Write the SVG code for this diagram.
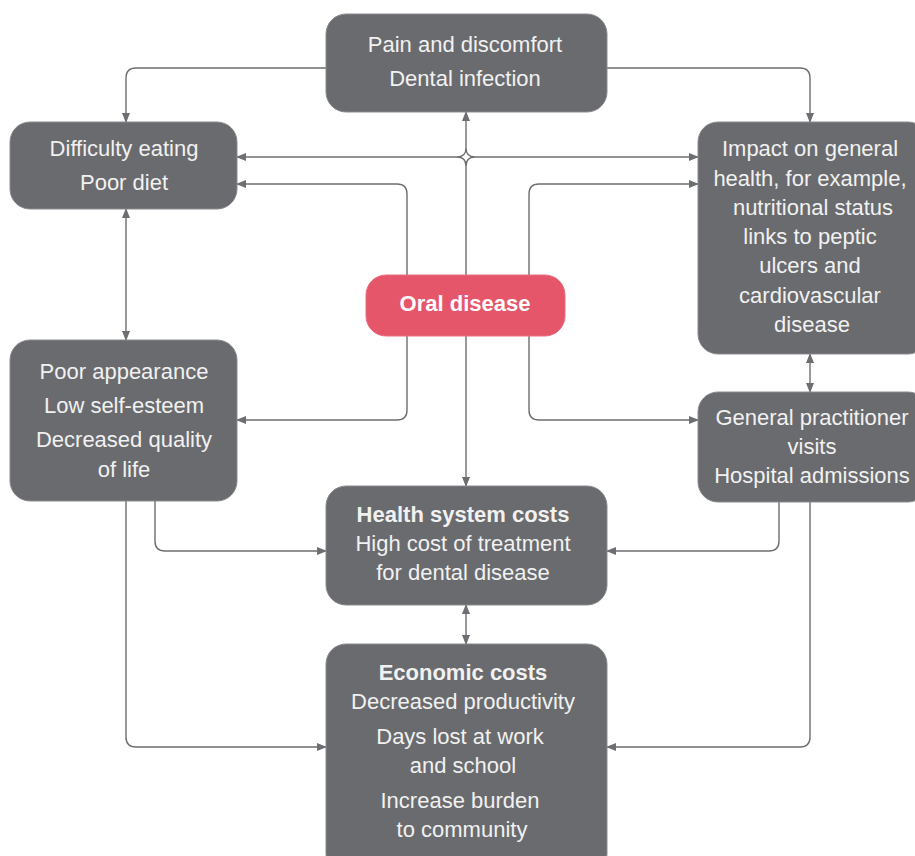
<svg xmlns="http://www.w3.org/2000/svg" width="915" height="856" viewBox="0 0 915 856">
<style>
.box{fill:#6a6b6e;stroke:#8a8b8e;stroke-width:1}
.red{fill:#e5566a;stroke:#e86f80;stroke-width:1}
.t{font-family:"Liberation Sans",Arial,sans-serif;font-size:22px;fill:#f1f1f1;text-anchor:middle}
.b{font-weight:bold}
.c{fill:none;stroke:#6d6e71;stroke-width:1.4}
</style>
<defs>
<marker id="ah" markerUnits="userSpaceOnUse" markerWidth="10" markerHeight="8" refX="9" refY="4" orient="auto-start-reverse">
<path d="M0,0 L10,4 L0,8 Z" fill="#6d6e71"/>
</marker>
</defs>
<g id="connectors">
<path class="c" d="M326,68 H136 Q126,68 126,78 V122" marker-end="url(#ah)"/>
<path class="c" d="M607,68 H800 Q810,68 810,78 V122" marker-end="url(#ah)"/>
<path class="c" d="M466,148 V112" marker-end="url(#ah)"/>
<path class="c" d="M466,166 V486" marker-end="url(#ah)"/>
<path class="c" d="M457,157 H237" marker-end="url(#ah)"/>
<path class="c" d="M475,157 H698" marker-end="url(#ah)"/>
<path class="c" d="M457,157 Q466,157 466,148 M475,157 Q466,157 466,148 M457,157 Q466,157 466,166 M475,157 Q466,157 466,166"/>
<path class="c" d="M407,275 V194 Q407,184 397,184 H237" marker-end="url(#ah)"/>
<path class="c" d="M407,336 V410 Q407,420 397,420 H237" marker-end="url(#ah)"/>
<path class="c" d="M529,275 V194 Q529,184 539,184 H698" marker-end="url(#ah)"/>
<path class="c" d="M529,336 V410 Q529,420 539,420 H698" marker-end="url(#ah)"/>
<path class="c" d="M126,209 V340" marker-start="url(#ah)" marker-end="url(#ah)"/>
<path class="c" d="M810,354 V392" marker-start="url(#ah)" marker-end="url(#ah)"/>
<path class="c" d="M466,605 V644" marker-start="url(#ah)" marker-end="url(#ah)"/>
<path class="c" d="M155,501 V541 Q155,551 165,551 H326" marker-end="url(#ah)"/>
<path class="c" d="M126,501 V737 Q126,747 136,747 H326" marker-end="url(#ah)"/>
<path class="c" d="M779,502 V541 Q779,551 769,551 H607" marker-end="url(#ah)"/>
<path class="c" d="M810,502 V737 Q810,747 800,747 H607" marker-end="url(#ah)"/>
</g>
<g id="pain">
<rect class="box" x="326" y="14" width="281" height="98" rx="20"/>
<text class="t" x="465" y="52">Pain and discomfort</text>
<text class="t" x="465" y="86">Dental infection</text>
</g>
<g id="eating">
<rect class="box" x="10" y="122" width="227" height="87" rx="20"/>
<text class="t" x="124" y="156">Difficulty eating</text>
<text class="t" x="124" y="190">Poor diet</text>
</g>
<g id="impact">
<rect class="box" x="698" y="122" width="230" height="232" rx="20"/>
<text class="t" x="810" y="156">Impact on general</text>
<text class="t" x="810" y="186">health, for example,</text>
<text class="t" x="813" y="215">nutritional status</text>
<text class="t" x="810" y="244">links to peptic</text>
<text class="t" x="810" y="273">ulcers and</text>
<text class="t" x="810" y="303">cardiovascular</text>
<text class="t" x="812" y="332">disease</text>
</g>
<g id="oral">
<rect class="red" x="366" y="275" width="199" height="61" rx="20"/>
<text class="t b" x="465" y="311" style="fill:#ffffff">Oral disease</text>
</g>
<g id="appearance">
<rect class="box" x="10" y="340" width="227" height="161" rx="20"/>
<text class="t" x="124" y="379">Poor appearance</text>
<text class="t" x="124" y="413">Low self-esteem</text>
<text class="t" x="124" y="447">Decreased quality</text>
<text class="t" x="124" y="477">of life</text>
</g>
<g id="gp">
<rect class="box" x="698" y="392" width="230" height="110" rx="20"/>
<text class="t" x="812" y="425">General practitioner</text>
<text class="t" x="812" y="454">visits</text>
<text class="t" x="812" y="483">Hospital admissions</text>
</g>
<g id="health">
<rect class="box" x="326" y="486" width="281" height="119" rx="20"/>
<text class="t b" x="463" y="522">Health system costs</text>
<text class="t" x="463" y="551">High cost of treatment</text>
<text class="t" x="463" y="580">for dental disease</text>
</g>
<g id="economic">
<rect class="box" x="326" y="644" width="281" height="230" rx="20"/>
<text class="t b" x="463" y="680">Economic costs</text>
<text class="t" x="463" y="709">Decreased productivity</text>
<text class="t" x="460" y="744">Days lost at work</text>
<text class="t" x="463" y="773">and school</text>
<text class="t" x="460" y="808">Increase burden</text>
<text class="t" x="462" y="837">to community</text>
</g>
</svg>
